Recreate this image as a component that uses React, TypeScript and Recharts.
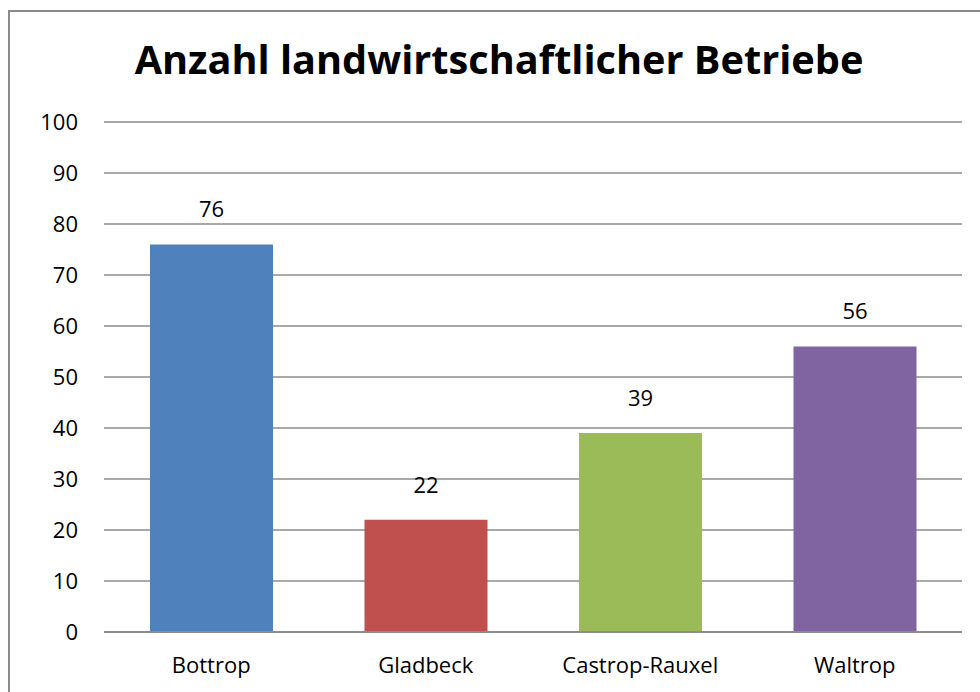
import React from "react";
import { BarChart, Bar, XAxis, YAxis, CartesianGrid, Cell, LabelList } from "recharts";

const categories = ["Bottrop", "Gladbeck", "Castrop-Rauxel", "Waltrop"];
const values = [76, 22, 39, 56];
const colors = ["#4F81BD", "#C0504D", "#9BBB59", "#8064A2"];
const yTicks = [0, 10, 20, 30, 40, 50, 60, 70, 80, 90, 100];
const title = "Anzahl landwirtschaftlicher Betriebe";

const data = categories.map((name, i) => ({ name, value: values[i] }));

const FONT = "'Open Sans', sans-serif";

export default function App() {
  return (
    <div
      style={{
        position: "absolute",
        left: 8,
        top: 10,
        width: 972,
        height: 682,
        borderLeft: "2px solid #8a8a8a",
        borderTop: "2px solid #8a8a8a",
        boxSizing: "border-box",
        overflow: "hidden",
        background: "#fff",
      }}
    >
      <div
        style={{
          position: "absolute",
          left: 0,
          top: 22,
          width: 978,
          textAlign: "center",
          fontFamily: FONT,
          fontWeight: 700,
          fontSize: 39.7,
          lineHeight: "50px",
          color: "#000",
        }}
      >
        {title}
      </div>
      <BarChart
        width={970}
        height={680}
        data={data}
        margin={{ top: 110, right: 18, bottom: 0, left: 0 }}
      >
        <CartesianGrid vertical={false} stroke="#8c8c8c" strokeWidth={1.7} />
        <XAxis
          dataKey="name"
          height={60}
          tickLine={false}
          tickSize={0}
          tickMargin={25}
          axisLine={{ stroke: "#8c8c8c", strokeWidth: 2 }}
          tick={{ fill: "#000", fontSize: 22, fontFamily: FONT }}
        />
        <YAxis
          width={94}
          domain={[0, 100]}
          ticks={yTicks}
          interval={0}
          axisLine={false}
          tickLine={false}
          tickSize={0}
          tickMargin={26}
          tick={{ fill: "#000", fontSize: 22, fontFamily: FONT }}
        />
        <Bar dataKey="value" barSize={123} isAnimationActive={false}>
          {data.map((d, i) => (
            <Cell key={d.name} fill={colors[i]} />
          ))}
          <LabelList
            dataKey="value"
            position="top"
            offset={27}
            style={{ fill: "#000", fontSize: 22, fontFamily: FONT }}
          />
        </Bar>
      </BarChart>
    </div>
  );
}
